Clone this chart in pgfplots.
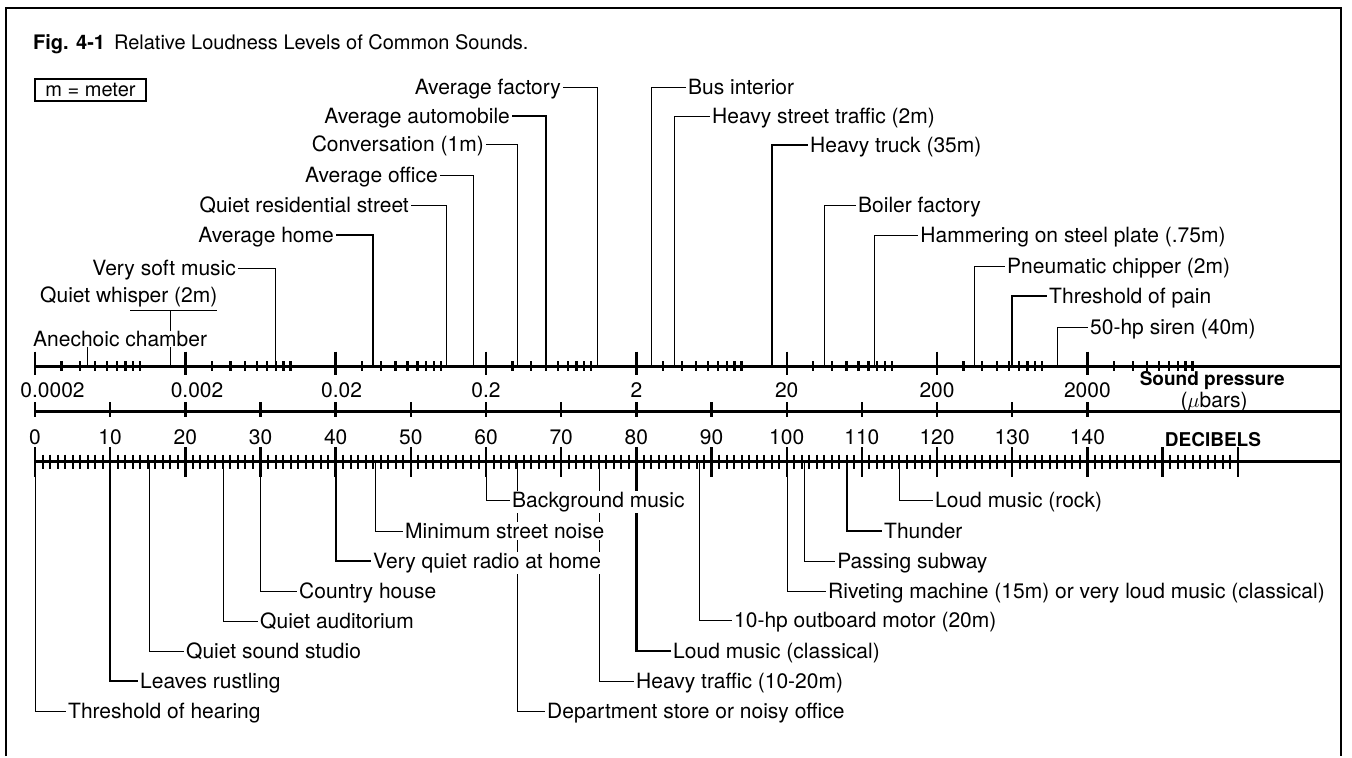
\documentclass[border=0pt]{standalone}
\usepackage{pgfplots}
\pgfplotsset{compat=1.18}
\usepackage{fontspec}
\setmainfont{TeX Gyre Heros}

\tikzset{
  lab/.style={font=\fontsize{21}{25}\selectfont, fill=white, inner xsep=2pt, inner ysep=1pt, yshift=-7.5pt},
  labR/.style={lab, anchor=base west},
  labL/.style={lab, anchor=base east},
  num/.style={font=\fontsize{21}{25}\selectfont, anchor=base, inner sep=0pt},
}

\begin{document}
\begin{tikzpicture}
\begin{axis}[
    width=1352pt, height=756pt, scale only axis,
    xmin=-4.656, xmax=175.20,
    ymin=0, ymax=756, y dir=reverse,
    hide axis, clip=false,
    cycle list={{black, solid, mark=none, line width=2.3pt}},
]

% page extent
\addplot[draw=none] coordinates {(-4.656,0) (175.20,756)};

% frame
\addplot[black, line width=2.6pt] coordinates {(-3.858,756) (-3.858,8) (173.74,8) (173.74,756)};

% three scale lines
\addplot[black, line width=2.8pt] coordinates {(0,366.7) (173.74,366.7)};
\addplot[black, line width=2.8pt] coordinates {(0,411.7) (173.74,411.7)};
\addplot[black, line width=2.8pt] coordinates {(0,461.7) (173.74,461.7)};

% sound pressure ticks (decades every 20 dB, minor at 3..10 x)
\addplot[black, only marks, mark=|, mark size=11.7pt, mark options={line width=2.4pt}] coordinates {
  (0,363.3) (20,363.3) (40,363.3) (60,363.3) (80,363.3) (100,363.3) (120,363.3) (140,363.3)};
\addplot[black, only marks, mark=|, mark size=5pt, mark options={line width=2.2pt}] coordinates {
  (3.52,366) (6.02,366) (7.96,366) (9.54,366) (10.88,366) (12.04,366) (13.06,366) (13.98,366)
  (23.52,366) (26.02,366) (27.96,366) (29.54,366) (30.88,366) (32.04,366) (33.06,366) (33.98,366)
  (43.52,366) (46.02,366) (47.96,366) (49.54,366) (50.88,366) (52.04,366) (53.06,366) (53.98,366)
  (63.52,366) (66.02,366) (67.96,366) (69.54,366) (70.88,366) (72.04,366) (73.06,366) (73.98,366)
  (83.52,366) (86.02,366) (87.96,366) (89.54,366) (90.88,366) (92.04,366) (93.06,366) (93.98,366)
  (103.52,366) (106.02,366) (107.96,366) (109.54,366) (110.88,366) (112.04,366) (113.06,366) (113.98,366)
  (123.52,366) (126.02,366) (127.96,366) (129.54,366) (130.88,366) (132.04,366) (133.06,366) (133.98,366)
  (143.52,366) (146.02,366) (147.96,366) (149.54,366) (150.88,366) (152.04,366) (153.06,366) (153.98,366)};

% decibel ticks
\addplot[black, only marks, mark=|, mark size=7.5pt, mark options={line width=2.4pt}] coordinates {
  (0,409.5) (10,409.5) (20,409.5) (30,409.5) (40,409.5) (50,409.5) (60,409.5) (70,409.5)
  (80,409.5) (90,409.5) (100,409.5) (110,409.5) (120,409.5) (130,409.5) (140,409.5)};

% fine 1 dB scale
\addplot[black, only marks, mark=|, mark size=7pt, mark options={line width=2pt}] coordinates {
  (0,461.5) (1,461.5) (2,461.5) (3,461.5) (4,461.5) (5,461.5) (6,461.5) (7,461.5) (8,461.5) (9,461.5)
  (10,461.5) (11,461.5) (12,461.5) (13,461.5) (14,461.5) (15,461.5) (16,461.5) (17,461.5) (18,461.5) (19,461.5)
  (20,461.5) (21,461.5) (22,461.5) (23,461.5) (24,461.5) (25,461.5) (26,461.5) (27,461.5) (28,461.5) (29,461.5)
  (30,461.5) (31,461.5) (32,461.5) (33,461.5) (34,461.5) (35,461.5) (36,461.5) (37,461.5) (38,461.5) (39,461.5)
  (40,461.5) (41,461.5) (42,461.5) (43,461.5) (44,461.5) (45,461.5) (46,461.5) (47,461.5) (48,461.5) (49,461.5)
  (50,461.5) (51,461.5) (52,461.5) (53,461.5) (54,461.5) (55,461.5) (56,461.5) (57,461.5) (58,461.5) (59,461.5)
  (60,461.5) (61,461.5) (62,461.5) (63,461.5) (64,461.5) (65,461.5) (66,461.5) (67,461.5) (68,461.5) (69,461.5)
  (70,461.5) (71,461.5) (72,461.5) (73,461.5) (74,461.5) (75,461.5) (76,461.5) (77,461.5) (78,461.5) (79,461.5)
  (80,461.5) (81,461.5) (82,461.5) (83,461.5) (84,461.5) (85,461.5) (86,461.5) (87,461.5) (88,461.5) (89,461.5)
  (90,461.5) (91,461.5) (92,461.5) (93,461.5) (94,461.5) (95,461.5) (96,461.5) (97,461.5) (98,461.5) (99,461.5)
  (100,461.5) (101,461.5) (102,461.5) (103,461.5) (104,461.5) (105,461.5) (106,461.5) (107,461.5) (108,461.5) (109,461.5)
  (110,461.5) (111,461.5) (112,461.5) (113,461.5) (114,461.5) (115,461.5) (116,461.5) (117,461.5) (118,461.5) (119,461.5)
  (120,461.5) (121,461.5) (122,461.5) (123,461.5) (124,461.5) (125,461.5) (126,461.5) (127,461.5) (128,461.5) (129,461.5)
  (130,461.5) (131,461.5) (132,461.5) (133,461.5) (134,461.5) (135,461.5) (136,461.5) (137,461.5) (138,461.5) (139,461.5)
  (140,461.5) (141,461.5) (142,461.5) (143,461.5) (144,461.5) (145,461.5) (146,461.5) (147,461.5) (148,461.5) (149,461.5)
  (150,461.5) (151,461.5) (152,461.5) (153,461.5) (154,461.5) (155,461.5) (156,461.5) (157,461.5) (158,461.5) (159,461.5)
  (160,461.5)};
\addplot[black, only marks, mark=|, mark size=15pt, mark options={line width=2.4pt}] coordinates {
  (0,462) (10,462) (20,462) (30,462) (40,462) (50,462) (60,462) (70,462) (80,462)
  (90,462) (100,462) (110,462) (120,462) (130,462) (140,462) (150,462) (160,462)};

% ---- sources above the scale (dB) ----
\addplot coordinates {(6.9,366.7) (6.9,343)};
\addplot coordinates {(3.59,343) (11.04,343)};
\addplot coordinates {(18.0,366.7) (18.0,310)};
\addplot coordinates {(12.64,310) (24.21,310)};
\addplot coordinates {(32,366.7) (32,268) (27.01,268)};
\addplot coordinates {(45,366.7) (45,235) (40.04,235)};
\addplot coordinates {(54.7,366.7) (54.7,205) (50.02,205)};
\addplot coordinates {(58.3,366.7) (58.3,175) (53.88,175)};
\addplot coordinates {(64.1,366.7) (64.1,144) (60.0,144)};
\addplot coordinates {(68,366.7) (68,116) (63.46,116)};
\addplot coordinates {(74.8,366.7) (74.8,87) (70.24,87)};
\addplot coordinates {(82,366.7) (82,87) (86.6,87)};
\addplot coordinates {(85,366.7) (85,116) (89.8,116)};
\addplot coordinates {(98,366.7) (98,145) (102.83,145)};
\addplot coordinates {(105,366.7) (105,205) (109.22,205)};
\addplot coordinates {(111.7,366.7) (111.7,235) (117.5,235)};
\addplot coordinates {(125,366.7) (125,266) (129.04,266)};
\addplot coordinates {(130,366.7) (130,296) (134.63,296)};
\addplot coordinates {(136,366.7) (136,327) (140.08,327)};

% ---- sources below the scale (dB) ----
\addplot coordinates {(60,461.7) (60,500) (63.19,500)};
\addplot coordinates {(45.3,461.7) (45.3,531) (48.96,531)};
\addplot coordinates {(40,461.7) (40,561) (44.7,561)};
\addplot coordinates {(30,461.7) (30,591) (34.85,591)};
\addplot coordinates {(25,461.7) (25,621) (29.67,621)};
\addplot coordinates {(15.2,461.7) (15.2,651) (19.82,651)};
\addplot coordinates {(10,461.7) (10,681) (13.7,681)};
\addplot coordinates {(0,461.7) (0,711) (4.12,711)};
\addplot coordinates {(64.1,461.7) (64.1,711) (67.85,711)};
\addplot coordinates {(75.1,461.7) (75.1,681) (79.69,681)};
\addplot coordinates {(80,461.7) (80,651) (84.61,651)};
\addplot coordinates {(88.4,461.7) (88.4,620) (92.72,620)};
\addplot coordinates {(100,461.7) (100,591) (105.23,591)};
\addplot coordinates {(102.3,461.7) (102.3,561) (106.43,561)};
\addplot coordinates {(108,461.7) (108,531) (112.68,531)};
\addplot coordinates {(115,461.7) (115,500) (119.46,500)};

% title and key
\node[anchor=base west, inner sep=0pt, font=\fontsize{20}{24}\selectfont] at (axis cs:-0.27,49)
  {\textbf{Fig. 4-1}\hspace{0.45em}Relative Loudness Levels of Common Sounds.};
\node[draw, line width=1.6pt, minimum width=111pt, minimum height=22pt, inner sep=0pt,
  font=\fontsize{20}{24}\selectfont] at (axis cs:7.38,90) {m = meter};

% scale labels
\node[num] at (axis cs:0,397) {\llap{0}.\rlap{0002}};
\node[num] at (axis cs:20,397) {\llap{0}.\rlap{002}};
\node[num] at (axis cs:40,397) {\llap{0}.\rlap{02}};
\node[num] at (axis cs:60,397) {\llap{0}.\rlap{2}};
\node[num] at (axis cs:80,397) {2};
\node[num] at (axis cs:100,397) {20};
\node[num] at (axis cs:120,397) {200};
\node[num] at (axis cs:140,397) {2000};
\node[num, font=\fontsize{19}{23}\selectfont\bfseries] at (axis cs:156.6,385) {Sound pressure};
\node[num] at (axis cs:156.85,407) {($\mu$bars)};
\node[num] at (axis cs:0,444) {0};
\node[num] at (axis cs:10,444) {10};
\node[num] at (axis cs:20,444) {20};
\node[num] at (axis cs:30,444) {30};
\node[num] at (axis cs:40,444) {40};
\node[num] at (axis cs:50,444) {50};
\node[num] at (axis cs:60,444) {60};
\node[num] at (axis cs:70,444) {70};
\node[num] at (axis cs:80,444) {80};
\node[num] at (axis cs:90,444) {90};
\node[num] at (axis cs:100,444) {100};
\node[num] at (axis cs:110,444) {110};
\node[num] at (axis cs:120,444) {120};
\node[num] at (axis cs:130,444) {130};
\node[num] at (axis cs:140,444) {140};
\node[num, font=\fontsize{19}{23}\selectfont\bfseries] at (axis cs:156.7,446) {DECIBELS};

% labels above
\node[lab, anchor=base west, inner xsep=0pt, inner ysep=0pt, yshift=0pt] at (axis cs:-0.27,339) {Anechoic chamber};
\node[lab, anchor=base west, inner xsep=0pt, yshift=0pt] at (axis cs:0.67,295) {Quiet whisper (2m)};
\node[labL] at (axis cs:27.01,268) {Very soft music};
\node[labL] at (axis cs:40.04,235) {Average home};
\node[labL] at (axis cs:50.02,205) {Quiet residential street};
\node[labL] at (axis cs:53.88,175) {Average office};
\node[labL] at (axis cs:60.0,144) {Conversation (1m)};
\node[labL] at (axis cs:63.46,116) {Average automobile};
\node[labL] at (axis cs:70.24,87) {Average factory};
\node[labR] at (axis cs:86.6,87) {Bus interior};
\node[labR] at (axis cs:89.8,116) {Heavy street traffic (2m)};
\node[labR] at (axis cs:102.83,145) {Heavy truck (35m)};
\node[labR] at (axis cs:109.22,205) {Boiler factory};
\node[labR] at (axis cs:117.5,235) {Hammering on steel plate (.75m)};
\node[labR] at (axis cs:129.04,266) {Pneumatic chipper (2m)};
\node[labR] at (axis cs:134.63,296) {Threshold of pain};
\node[labR] at (axis cs:140.08,327) {50-hp siren (40m)};

% labels below
\node[labR] at (axis cs:63.19,500) {Background music};
\node[labR] at (axis cs:48.96,531) {Minimum street noise};
\node[labR] at (axis cs:44.7,561) {Very quiet radio at home};
\node[labR] at (axis cs:34.85,591) {Country house};
\node[labR] at (axis cs:29.67,621) {Quiet auditorium};
\node[labR] at (axis cs:19.82,651) {Quiet sound studio};
\node[labR] at (axis cs:13.7,681) {Leaves rustling};
\node[labR] at (axis cs:4.12,711) {Threshold of hearing};
\node[labR] at (axis cs:67.85,711) {Department store or noisy office};
\node[labR] at (axis cs:79.69,681) {Heavy traffic (10-20m)};
\node[labR] at (axis cs:84.61,651) {Loud music (classical)};
\node[labR] at (axis cs:92.72,620) {10-hp outboard motor (20m)};
\node[labR] at (axis cs:105.23,591) {Riveting machine (15m) or very loud music (classical)};
\node[labR] at (axis cs:106.43,561) {Passing subway};
\node[labR] at (axis cs:112.68,531) {Thunder};
\node[labR] at (axis cs:119.46,500) {Loud music (rock)};

\end{axis}
\end{tikzpicture}
\end{document}
